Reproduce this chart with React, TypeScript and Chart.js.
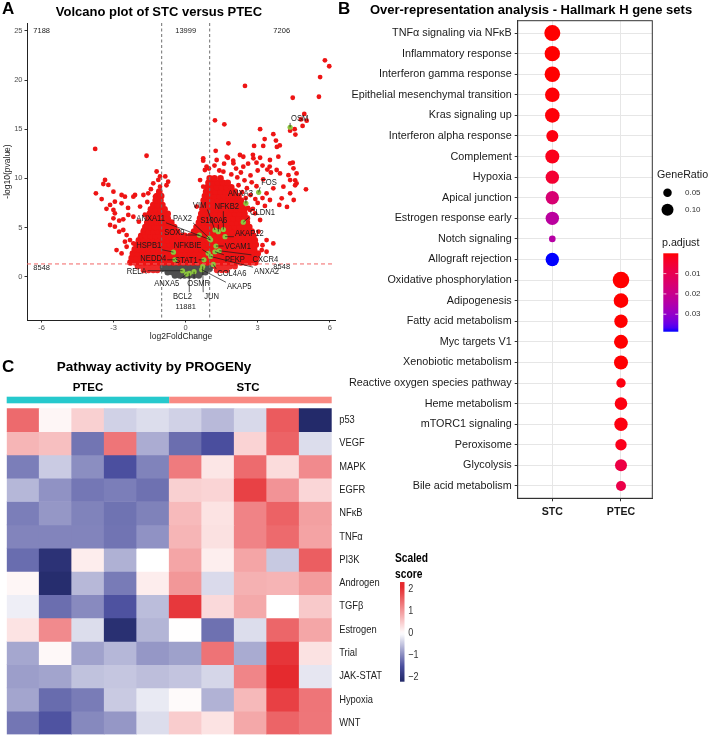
import React, { useEffect, useRef } from "react";
import { Chart, registerables } from "chart.js";

Chart.register(...registerables);

const SANS = "'Liberation Sans', Arial, Helvetica, sans-serif";
Chart.defaults.font.family = SANS;

type RGB = [number, number, number];

// ================= Panel A : volcano =================
const volcanoXTicks = [-6, -3, 0, 3, 6];
const volcanoYTicks = [0, 5, 10, 15, 20, 25];
const fcCutoffs = [-1, 1];
const pCutoff = 1.3;

// dense significant cloud: [ -log10(p), log2FC values ]
const denseSigRows: [number, number[]][] = [
  [1.45, [-2.3, -2.1, -1.9, -1.7, -1.5, -1.3, -1.1, -0.9, -0.7, -0.5, -0.3, -0.1, 0.1, 0.3, 0.5, 0.7, 0.9, 1.1, 1.3, 1.5, 1.7, 1.9, 2.1, 2.3, 2.5, 2.7, 2.9]],
  [1.9, [-2.25, -2.05, -1.85, -1.65, -1.45, -1.25, -1.05, -0.85, -0.65, -0.45, -0.25, -0.05, 0.15, 0.35, 0.55, 0.75, 0.95, 1.15, 1.35, 1.55, 1.75, 1.95, 2.15, 2.35, 2.55, 2.75, 2.95]],
  [2.35, [-2.2, -2.0, -1.8, -1.6, -1.4, -1.2, -1.0, -0.8, -0.6, -0.4, -0.2, 0.0, 0.2, 0.4, 0.6, 0.8, 1.0, 1.2, 1.4, 1.6, 1.8, 2.0, 2.2, 2.4, 2.6, 2.8, 3.0]],
  [2.8, [-2.12, -1.95, -1.75, -1.55, -1.35, -1.15, -0.95, -0.75, -0.55, -0.35, -0.15, 0.05, 0.25, 0.45, 0.65, 0.85, 1.05, 1.25, 1.45, 1.65, 1.85, 2.05, 2.25, 2.45, 2.65, 2.85]],
  [3.25, [-2.05, -1.85, -1.65, -1.45, -1.25, -1.05, -0.85, -0.65, -0.45, -0.25, -0.05, 0.15, 0.35, 0.55, 0.75, 0.95, 1.15, 1.35, 1.55, 1.75, 1.95, 2.15, 2.35, 2.55, 2.75, 2.92]],
  [3.7, [-1.95, -1.75, -1.55, -1.35, -1.15, -0.95, -0.75, -0.55, -0.35, -0.15, 0.1, 0.3, 0.5, 0.7, 0.9, 1.1, 1.3, 1.5, 1.7, 1.9, 2.1, 2.3, 2.5, 2.7, 2.88]],
  [4.15, [-1.85, -1.65, -1.45, -1.25, -1.05, -0.85, -0.65, -0.45, -0.25, -0.05, 0.2, 0.4, 0.6, 0.8, 1.0, 1.2, 1.4, 1.6, 1.8, 2.0, 2.2, 2.4, 2.6, 2.82]],
  [4.6, [-1.75, -1.55, -1.35, -1.15, -0.95, -0.75, -0.55, -0.35, 0.35, 0.55, 0.75, 0.95, 1.15, 1.35, 1.55, 1.75, 1.95, 2.15, 2.35, 2.55, 2.75]],
  [5.05, [-1.68, -1.48, -1.28, -1.08, -0.88, -0.68, -0.48, 0.45, 0.65, 0.85, 1.05, 1.25, 1.45, 1.65, 1.85, 2.05, 2.25, 2.45, 2.65]],
  [5.5, [-1.6, -1.4, -1.2, -1.0, -0.8, -0.6, 0.55, 0.75, 0.95, 1.15, 1.35, 1.55, 1.75, 1.95, 2.15, 2.35, 2.55]],
  [5.95, [-1.55, -1.35, -1.15, -0.95, -0.75, 0.6, 0.8, 1.0, 1.2, 1.4, 1.6, 1.8, 2.0, 2.2, 2.4, 2.55]],
  [6.4, [-1.5, -1.3, -1.1, -0.9, -0.75, 0.65, 0.85, 1.05, 1.25, 1.45, 1.65, 1.85, 2.05, 2.25, 2.45]],
  [6.85, [-1.45, -1.25, -1.05, -0.88, 0.7, 0.9, 1.1, 1.3, 1.5, 1.7, 1.9, 2.1, 2.3, 2.45]],
  [7.3, [-1.35, -1.15, -0.97, 0.75, 0.95, 1.15, 1.35, 1.55, 1.75, 1.95, 2.15, 2.35]],
  [7.75, [-1.25, -1.05, 0.75, 0.95, 1.15, 1.35, 1.55, 1.75, 1.95, 2.15, 2.3]],
  [8.2, [-1.2, -1.02, 0.8, 1.0, 1.2, 1.4, 1.6, 1.8, 2.0, 2.2]],
  [8.65, [-1.1, 0.85, 1.05, 1.25, 1.45, 1.65, 1.85, 2.05]],
  [9.1, [0.9, 1.1, 1.3, 1.5, 1.7, 1.9]],
  [9.55, [0.95, 1.15, 1.35, 1.55, 1.75]],
  [10.0, [1.0, 1.2, 1.45]],
];

// significant but below the p line (fringe)
const lowSigRows: [number, number[]][] = [
  [1.05, [-2.0, -1.8, -1.6, -1.4, -1.2, 1.25, 1.45, 1.65, 1.85, 2.05]],
  [0.65, [-1.75, -1.55, -1.35, -1.18, 1.3, 1.5, 1.7]],
];

// not significant
const nsRows: [number, number[]][] = [
  [1.15, [-1.02, -0.82, -0.62, -0.42, -0.22, -0.02, 0.18, 0.38, 0.58, 0.78, 0.98, 1.12]],
  [0.8, [-0.98, -0.8, -0.6, -0.4, -0.2, 0.0, 0.2, 0.4, 0.6, 0.8, 1.0]],
  [0.45, [-0.75, -0.55, -0.35, -0.15, 0.05, 0.25, 0.45, 0.65, 0.82]],
  [0.12, [-0.45, -0.25, -0.05, 0.15, 0.35, 0.55]],
];

// isolated significant genes [log2FC, -log10 p]
const scatterSig: [number, number][] = [
  [-3.77, 13.0], [-1.63, 12.3], [-3.74, 8.48], [-3.43, 9.43], [-3.36, 9.84], [-3.22, 9.33], [-3.01, 8.65],
  [-2.67, 8.31], [-2.53, 8.14], [-2.11, 8.31], [-2.18, 8.14], [-1.76, 8.31], [-1.56, 8.48], [-1.28, 8.14],
  [-2.95, 7.63], [-3.15, 7.3], [-2.67, 7.46], [-3.01, 6.79], [-2.95, 6.45], [-3.01, 5.94], [-2.77, 5.7],
  [-2.6, 5.84], [-2.39, 6.28], [-2.18, 6.1], [-1.9, 7.13], [-3.15, 5.26], [-2.95, 5.09], [-2.6, 4.75],
  [-2.77, 4.58], [-2.46, 4.24], [-2.32, 3.73], [-2.53, 3.56], [-2.18, 3.39], [-2.88, 2.71], [-2.67, 2.37],
  [-2.46, 3.05], [-1.9, 4.07], [-1.76, 4.75], [-1.63, 5.09], [-1.21, 10.7], [-1.07, 10.2], [-1.14, 9.84],
  [-1.35, 9.5], [-1.07, 9.16], [-0.73, 9.67], [-3.5, 7.9], [-3.3, 6.9], [-2.4, 7.0], [-1.95, 5.6],
  [-1.7, 6.3], [-1.6, 7.6], [-1.45, 8.9], [-0.85, 10.2], [-0.8, 9.3],
  [5.8, 22.0], [5.98, 21.4], [5.6, 20.3], [5.55, 18.3], [2.47, 19.4], [4.46, 18.2], [4.94, 16.55],
  [4.8, 16.0], [5.04, 15.87], [4.87, 15.33], [4.54, 15.0], [4.35, 14.85], [4.57, 14.45], [1.22, 15.9],
  [1.61, 15.5], [3.1, 15.0], [3.65, 14.5], [3.29, 14.0], [3.76, 13.84], [1.78, 13.57], [2.85, 13.3],
  [3.23, 13.3], [3.8, 13.2], [3.92, 13.35], [1.25, 12.8], [0.73, 12.04], [1.29, 11.87], [1.71, 12.21],
  [2.26, 12.38], [2.82, 12.04], [3.51, 11.87], [3.86, 12.21], [4.35, 11.53], [4.49, 11.02], [4.62, 10.5],
  [4.28, 10.33], [4.35, 9.83], [4.62, 9.5], [5.01, 8.89], [4.07, 9.16], [3.65, 8.99], [3.37, 8.48],
  [3.51, 7.8], [4.0, 7.97], [4.35, 8.48], [3.1, 5.77], [3.03, 4.58], [3.37, 3.73], [3.17, 2.71],
  [3.37, 2.54], [3.65, 3.39], [2.89, 6.45], [2.68, 6.79], [0.8, 10.85], [0.6, 9.83], [0.73, 9.16],
  [1.01, 8.48], [0.46, 7.13], [3.93, 10.5], [3.23, 9.9], [3.79, 10.85], [2.4, 11.19], [1.99, 11.53],
  [1.57, 10.68], [4.56, 9.8], [4.56, 9.3], [4.5, 7.8], [4.22, 7.1], [3.9, 7.3], [3.2, 3.2], [2.94, 2.2],
  [2.5, 8.0], [2.7, 8.3], [2.9, 7.9], [2.6, 7.0], [2.8, 6.9], [3.0, 7.5], [2.35, 8.6], [2.55, 9.0],
  [2.2, 9.3], [2.75, 9.6], [3.2, 8.0], [3.3, 7.2], [2.95, 9.2], [2.45, 9.8], [2.15, 10.1], [1.9, 10.4],
  [2.3, 10.6], [2.7, 10.3], [3.0, 10.8], [1.4, 10.8], [1.2, 11.3], [1.6, 11.5], [2.1, 11.0], [2.6, 11.5],
  [3.2, 11.3], [3.1, 12.1], [2.95, 11.6], [0.73, 11.8], [0.87, 11.2], [0.97, 11.0], [1.76, 12.1],
  [1.98, 11.8], [2.4, 12.2], [2.8, 12.4], [3.5, 11.2], [3.4, 10.9], [3.55, 10.6], [4.46, 11.6],
];

const geneNames = ["OSM", "FOS", "ANXA3", "CLDN1", "NFKB2", "VIM", "S100A6", "AKAP12", "PAX2", "ANXA11", "SOX9", "VCAM1", "NFKBIE", "HSPB1", "NEDD4", "STAT1", "PFKP", "CXCR4", "ANXA2", "COL4A6", "RELA", "ANXA5", "OSMR", "BCL2", "JUN", "AKAP5"];
const geneLog2FC = [4.35, 3.04, 2.51, 2.4, 1.57, 1.22, 1.36, 1.64, 0.98, 1.04, 0.57, 1.26, 0.94, -0.51, -0.45, 0.76, 1.22, 1.4, 1.04, 1.15, -0.13, 0.04, 0.35, 0.15, 0.71, 0.67];
const geneLogP = [15.2, 8.58, 7.46, 5.55, 4.8, 4.75, 4.58, 4.07, 3.92, 3.75, 4.24, 3.12, 2.38, 2.5, 1.72, 1.72, 2.54, 2.64, 2.06, 1.25, 0.61, 0.27, 0.51, 0.35, 1.05, 0.72];
const labelLog2FC = [4.75, 3.47, 2.28, 3.2, 1.71, 0.58, 1.17, 2.65, -0.13, -1.46, -0.47, 2.17, 0.08, -1.54, -1.35, 0.03, 2.05, 3.32, 3.37, 1.92, -2.04, -0.79, 0.54, -0.13, 1.08, 2.23];
const labelLogP = [16.1, 9.56, 8.48, 6.5, 7.12, 7.3, 5.77, 4.41, 5.94, 5.94, 4.55, 3.12, 3.22, 3.2, 1.87, 1.63, 1.77, 1.77, 0.51, 0.34, 0.51, -0.68, -0.68, -2.03, -2.03, -1.02];

const regionCounts = ["7188", "13999", "7206", "8548", "8548", "11881"];
const countX = [-6, 0, 4, -6, 4, 0];
const countY = [25, 25, 25, 0.85, 1.0, -3.05];

// ================= Panel B : ORA dot plot =================
const pathways = [
  "TNFα signaling via NFκB", "Inflammatory response", "Interferon gamma response",
  "Epithelial mesenchymal transition", "Kras signaling up", "Interferon alpha response",
  "Complement", "Hypoxia", "Apical junction", "Estrogen response early", "Notch signaling",
  "Allograft rejection", "Oxidative phosphorylation", "Adipogenesis", "Fatty acid metabolism",
  "Myc targets V1", "Xenobiotic metabolism", "Reactive oxygen species pathway", "Heme metabolism",
  "mTORC1 signaling", "Peroxisome", "Glycolysis", "Bile acid metabolism",
];
const cellGroups = ["STC", "PTEC"];
const enrichGroup = ["STC", "STC", "STC", "STC", "STC", "STC", "STC", "STC", "STC", "STC", "STC", "STC",
  "PTEC", "PTEC", "PTEC", "PTEC", "PTEC", "PTEC", "PTEC", "PTEC", "PTEC", "PTEC", "PTEC"];
const geneRatio = [0.177, 0.164, 0.164, 0.148, 0.148, 0.1, 0.136, 0.124, 0.124, 0.124, 0.03, 0.124,
  0.19, 0.148, 0.124, 0.136, 0.136, 0.061, 0.11, 0.124, 0.09, 0.1, 0.069];
const pAdjust = [0.0000001, 0.000001, 0.00001, 0.0003, 0.0005, 0.001, 0.002, 0.005, 0.0155, 0.023, 0.024, 0.0386,
  0.0000001, 0.000001, 0.00001, 0.00001, 0.0001, 0.001, 0.001, 0.001, 0.002, 0.0077, 0.0085];
const sizeBreaks = [0.05, 0.1];
const pBreaks = [0.01, 0.02, 0.03];
const P_MAX = 0.0386;

// ================= Panel C : PROGENy heatmap =================
const progenyPathways = ["p53", "VEGF", "MAPK", "EGFR", "NFκB", "TNFα", "PI3K", "Androgen", "TGFβ", "Estrogen", "Trial", "JAK-STAT", "Hypoxia", "WNT"];
const sampleIds = ["PTEC_1", "PTEC_2", "PTEC_3", "PTEC_4", "PTEC_5", "STC_1", "STC_2", "STC_3", "STC_4", "STC_5"];
const sampleGroup = ["PTEC", "PTEC", "PTEC", "PTEC", "PTEC", "STC", "STC", "STC", "STC", "STC"];
const scoreP53 = [1.47, 0.09, 0.46, -0.39, -0.29, -0.39, -0.59, -0.32, 1.62, -2.15];
const scoreVEGF = [0.73, 0.63, -1.17, 1.36, -0.7, -1.23, -1.5, 0.43, 1.54, -0.29];
const scoreMAPK = [-1.09, -0.44, -0.96, -1.49, -1.05, 1.3, 0.25, 1.46, 0.35, 1.15];
const scoreEGFR = [-0.61, -0.92, -1.15, -1.09, -1.2, 0.46, 0.42, 1.87, 1.06, 0.4];
const scoreNFkB = [-1.09, -0.88, -1.05, -1.19, -1.06, 0.68, 0.28, 1.22, 1.55, 0.94];
const scoreTNFa = [-1.04, -1.04, -1.04, -1.18, -0.92, 0.73, 0.3, 1.22, 1.47, 0.91];
const scorePI3K = [-1.24, -2.0, 0.18, -0.66, 0.0, 0.89, 0.17, 0.89, -0.46, 1.59];
const scoreAndrogen = [0.09, -2.1, -0.6, -1.12, 0.18, 1.03, -0.31, 0.77, 0.74, 0.98];
const scoreTGFb = [-0.14, -1.23, -0.99, -1.47, -0.56, 1.96, 0.37, 0.85, 0.0, 0.53];
const scoreEstrogen = [0.28, 1.15, -0.29, -2.05, -0.63, 0.01, -1.2, -0.29, 1.51, 0.88];
const scoreTrial = [-0.75, 0.07, -0.79, -0.61, -0.88, -0.8, 1.38, -0.71, 1.99, 0.29];
const scoreJAKSTAT = [-0.82, -0.77, -0.52, -0.48, -0.55, -0.5, -0.35, 1.2, 2.1, -0.21];
const scoreHypoxia = [-0.76, -1.25, -1.11, -0.45, -0.18, 0.05, -0.65, 0.69, 1.88, 1.36];
const scoreWNT = [-1.16, -1.46, -1.0, -0.88, -0.29, 0.5, 0.28, 0.86, 1.53, 1.35];
const scoreRows = [scoreP53, scoreVEGF, scoreMAPK, scoreEGFR, scoreNFkB, scoreTNFa, scorePI3K, scoreAndrogen, scoreTGFb, scoreEstrogen, scoreTrial, scoreJAKSTAT, scoreHypoxia, scoreWNT];
const scoreLegendTicks = [2, 1, 0, -1, -2];
const SCORE_MIN = -2.2;
const SCORE_MAX = 2.33;

// ================= colour helpers =================
const rgbStr = (c: RGB) => `rgb(${Math.round(c[0])},${Math.round(c[1])},${Math.round(c[2])})`;
const mix = (a: RGB, b: RGB, t: number): RGB => [a[0] + (b[0] - a[0]) * t, a[1] + (b[1] - a[1]) * t, a[2] + (b[2] - a[2]) * t];

const WHITE: RGB = [255, 255, 255];
const HEAT_HIGH: RGB = [229, 42, 46];
const HEAT_MID_LOW: RGB = [74, 78, 158];
const HEAT_LOW: RGB = [35, 42, 106];
function heatColor(v: number): string {
  if (v >= 0) return rgbStr(mix(WHITE, HEAT_HIGH, Math.min(v / 2.1, 1)));
  if (v >= -1.5) return rgbStr(mix(WHITE, HEAT_MID_LOW, -v / 1.5));
  return rgbStr(mix(HEAT_MID_LOW, HEAT_LOW, Math.min((-v - 1.5) / 0.65, 1)));
}

function toLin(c: number) { c /= 255; return c <= 0.04045 ? c / 12.92 : Math.pow((c + 0.055) / 1.055, 2.4); }
function fromLin(c: number) { const v = c <= 0.0031308 ? 12.92 * c : 1.055 * Math.pow(c, 1 / 2.4) - 0.055; return Math.max(0, Math.min(1, v)) * 255; }
function rgbToLab(c: RGB): RGB {
  const R = toLin(c[0]), G = toLin(c[1]), B = toLin(c[2]);
  const X = (0.4124 * R + 0.3576 * G + 0.1805 * B) / 0.95047;
  const Y = 0.2126 * R + 0.7152 * G + 0.0722 * B;
  const Z = (0.0193 * R + 0.1192 * G + 0.9505 * B) / 1.08883;
  const f = (t: number) => (t > 0.008856 ? Math.cbrt(t) : 7.787 * t + 16 / 116);
  const fx = f(X), fy = f(Y), fz = f(Z);
  return [116 * fy - 16, 500 * (fx - fy), 200 * (fy - fz)];
}
function labToRgb(l: RGB): RGB {
  const fy = (l[0] + 16) / 116, fx = fy + l[1] / 500, fz = fy - l[2] / 200;
  const inv = (t: number) => (t * t * t > 0.008856 ? t * t * t : (t - 16 / 116) / 7.787);
  const X = inv(fx) * 0.95047, Y = inv(fy), Z = inv(fz) * 1.08883;
  const R = 3.2406 * X - 1.5372 * Y - 0.4986 * Z;
  const G = -0.9689 * X + 1.8758 * Y + 0.0415 * Z;
  const B = 0.0557 * X - 0.204 * Y + 1.057 * Z;
  return [fromLin(R), fromLin(G), fromLin(B)];
}
const LAB_RED = rgbToLab([255, 0, 0]);
const LAB_BLUE = rgbToLab([0, 0, 255]);
function pColor(p: number): string {
  const t = Math.max(0, Math.min(1, p / P_MAX));
  return rgbStr(labToRgb(mix(LAB_RED, LAB_BLUE, t)));
}

const rowsToPoints = (rows: [number, number[]][]) => rows.flatMap(([y, xs]) => xs.map((x) => ({ x, y })));

// draw horizontally condensed text (narrow face look-alike)
function narrowText(ctx: CanvasRenderingContext2D, text: string, x: number, y: number, sx: number) {
  ctx.save();
  ctx.translate(x, y);
  ctx.scale(sx, 1);
  ctx.fillText(text, 0, 0);
  ctx.restore();
}

// ================= Panel A chart =================
const volcanoDecor = {
  id: "volcanoDecor",
  afterDatasetsDraw(chart: any) {
    const { ctx, chartArea: a, scales } = chart;
    const x = scales.x, y = scales.y;
    ctx.save();
    ctx.lineWidth = 1;
    ctx.setLineDash([3, 2.5]);
    ctx.strokeStyle = "#707070";
    fcCutoffs.forEach((v) => {
      const px = x.getPixelForValue(v);
      ctx.beginPath(); ctx.moveTo(px, a.top); ctx.lineTo(px, a.bottom); ctx.stroke();
    });
    ctx.setLineDash([4, 3]);
    ctx.strokeStyle = "#F26464";
    const py = y.getPixelForValue(pCutoff);
    ctx.beginPath(); ctx.moveTo(a.left, py); ctx.lineTo(a.right, py); ctx.stroke();
    ctx.setLineDash([]);

    const SX = 0.82;
    ctx.font = `9.3px ${SANS}`;
    ctx.textAlign = "center";
    ctx.textBaseline = "middle";
    geneNames.forEach((g, i) => {
      const gx = x.getPixelForValue(geneLog2FC[i]);
      const gy = y.getPixelForValue(geneLogP[i]);
      const lx = x.getPixelForValue(labelLog2FC[i]);
      const ly = y.getPixelForValue(labelLogP[i]);
      const hw = (ctx.measureText(g).width * SX) / 2 + 1;
      const hh = 4.5;
      const qx = Math.max(lx - hw, Math.min(gx, lx + hw));
      const qy = Math.max(ly - hh, Math.min(gy, ly + hh));
      if (Math.hypot(qx - gx, qy - gy) > 2) {
        ctx.strokeStyle = "#1a1a1a";
        ctx.lineWidth = 0.7;
        ctx.beginPath(); ctx.moveTo(gx, gy); ctx.lineTo(qx, qy); ctx.stroke();
      }
      ctx.fillStyle = "#1a1a1a";
      narrowText(ctx, g, lx, ly, SX);
    });

    ctx.font = `7.5px ${SANS}`;
    ctx.fillStyle = "#222";
    regionCounts.forEach((t, i) => {
      ctx.fillText(t, x.getPixelForValue(countX[i]), y.getPixelForValue(countY[i]));
    });
    ctx.restore();
  },
  afterDraw(chart: any) {
    const { ctx } = chart;
    ctx.save();
    ctx.fillStyle = "#000";
    ctx.textBaseline = "middle";
    ctx.textAlign = "left";
    ctx.font = `bold 17px ${SANS}`;
    ctx.fillText("A", 2, 9);
    ctx.textAlign = "center";
    ctx.font = `bold 13px ${SANS}`;
    ctx.fillText("Volcano plot of STC versus PTEC", 159, 12);
    ctx.restore();
  },
};

function makeVolcano(canvas: HTMLCanvasElement) {
  const genePts = geneNames.map((_, i) => ({ x: geneLog2FC[i], y: geneLogP[i] }));
  return new Chart(canvas, {
    type: "scatter",
    data: {
      datasets: [
        { label: "genes", data: genePts, backgroundColor: "#8CC63E", borderWidth: 0, pointRadius: 2.6, order: 0 },
        { label: "sig", data: scatterSig.map(([x, y]) => ({ x, y })), backgroundColor: "#EE1414", borderWidth: 0, pointRadius: 2.4, order: 1 },
        { label: "sigDense", data: rowsToPoints(denseSigRows), backgroundColor: "#EE1414", borderWidth: 0, pointRadius: 3.3, order: 2 },
        { label: "sigLow", data: rowsToPoints(lowSigRows), backgroundColor: "#EE2A2A", borderWidth: 0, pointRadius: 3.0, order: 3 },
        { label: "ns", data: rowsToPoints(nsRows), backgroundColor: "#4F4F4F", borderWidth: 0, pointRadius: 3.2, order: 4 },
      ],
    },
    options: {
      responsive: false,
      animation: false,
      events: [],
      layout: { padding: { top: 23, right: 10, left: 0, bottom: 0 } },
      plugins: { legend: { display: false }, tooltip: { enabled: false } },
      scales: {
        x: {
          type: "linear", min: -6.61, max: 6.22,
          afterBuildTicks: (s: any) => { s.ticks = volcanoXTicks.map((v) => ({ value: v })); },
          afterFit: (s: any) => { s.height = 30; },
          grid: { display: true, drawOnChartArea: false, drawTicks: true, tickLength: 2.5, color: "#333", tickColor: "#333" },
          border: { display: true, color: "#222", width: 1 },
          ticks: { font: { size: 7.5, family: SANS }, color: "#4D4D4D", padding: 1, maxRotation: 0, autoSkip: false },
          title: { display: true, text: "log2FoldChange", font: { size: 8.5, family: SANS }, color: "#1a1a1a", padding: { top: 0, bottom: 8.5 } },
        },
        y: {
          type: "linear", min: -4.4, max: 25.8,
          afterBuildTicks: (s: any) => { s.ticks = volcanoYTicks.map((v) => ({ value: v })); },
          afterFit: (s: any) => { s.width = 27; },
          grid: { display: true, drawOnChartArea: false, drawTicks: true, tickLength: 2.5, color: "#333", tickColor: "#333" },
          border: { display: true, color: "#222", width: 1 },
          ticks: { font: { size: 7.5, family: SANS }, color: "#4D4D4D", padding: 2, autoSkip: false },
          title: { display: true, text: "-log10(pvalue)", font: { size: 8.5, family: SANS }, color: "#1a1a1a", padding: { top: 2.5, bottom: 0 } },
        },
      },
    },
    plugins: [volcanoDecor],
  } as any);
}

// ================= Panel B chart =================
const dotDecor = {
  id: "dotDecor",
  afterDraw(chart: any) {
    const { ctx, chartArea: a } = chart;
    ctx.save();
    ctx.strokeStyle = "#333";
    ctx.lineWidth = 1;
    ctx.strokeRect(a.left, a.top, a.right - a.left, a.bottom - a.top);

    ctx.fillStyle = "#000";
    ctx.textBaseline = "middle";
    ctx.textAlign = "left";
    ctx.font = `bold 17px ${SANS}`;
    ctx.fillText("B", 8, 9);
    ctx.textAlign = "center";
    ctx.font = `bold 13px ${SANS}`;
    ctx.fillText("Over-representation analysis - Hallmark H gene sets", 201, 10);

    // size legend
    ctx.textAlign = "left";
    ctx.fillStyle = "#1a1a1a";
    ctx.font = `10.7px ${SANS}`;
    ctx.fillText("GeneRatio", 327, 175);
    sizeBreaks.forEach((v, i) => {
      const cy = 192.7 + i * 17;
      ctx.fillStyle = "#000";
      ctx.beginPath(); ctx.arc(337.5, cy, 19 * Math.sqrt(v), 0, Math.PI * 2); ctx.fill();
      ctx.fillStyle = "#333";
      ctx.font = `8px ${SANS}`;
      ctx.fillText(v.toFixed(2), 355, cy);
    });

    // colour bar legend
    ctx.fillStyle = "#1a1a1a";
    ctx.font = `10.7px ${SANS}`;
    ctx.fillText("p.adjust", 332, 243.3);
    const top = 253.3, bottom = 331.7, left = 333.3, right = 348.3;
    const grad = ctx.createLinearGradient(0, top, 0, bottom);
    for (let k = 0; k <= 20; k++) grad.addColorStop(k / 20, pColor((k / 20) * P_MAX));
    ctx.fillStyle = grad;
    ctx.fillRect(left, top, right - left, bottom - top);
    ctx.font = `8px ${SANS}`;
    pBreaks.forEach((p) => {
      const yy = top + (p / P_MAX) * (bottom - top);
      ctx.strokeStyle = "rgba(255,255,255,0.9)";
      ctx.lineWidth = 0.8;
      ctx.beginPath(); ctx.moveTo(left, yy); ctx.lineTo(left + 3, yy); ctx.moveTo(right - 3, yy); ctx.lineTo(right, yy); ctx.stroke();
      ctx.fillStyle = "#333";
      ctx.fillText(p.toFixed(2), 355, yy);
    });
    ctx.restore();
  },
};

function makeDot(canvas: HTMLCanvasElement) {
  const pts = pathways.map((_, i) => ({ x: cellGroups.indexOf(enrichGroup[i]) + 1, y: i, r: 19 * Math.sqrt(geneRatio[i]) }));
  return new Chart(canvas, {
    type: "bubble",
    data: {
      datasets: [{ data: pts, backgroundColor: pAdjust.map(pColor), borderWidth: 0, hoverBorderWidth: 0 }],
    },
    options: {
      responsive: false,
      animation: false,
      events: [],
      layout: { padding: { top: 20.7, right: 56.7, left: 0, bottom: 0 } },
      plugins: { legend: { display: false }, tooltip: { enabled: false } },
      scales: {
        x: {
          type: "linear", min: 0.496, max: 2.456,
          afterBuildTicks: (s: any) => { s.ticks = cellGroups.map((_, i) => ({ value: i + 1 })); },
          afterFit: (s: any) => { s.height = 21.7; },
          grid: { color: "#E6E6E6", lineWidth: 1, tickLength: 3, tickColor: "#333" },
          border: { display: true, color: "#333" },
          ticks: { callback: (v: any) => cellGroups[Math.round(v) - 1], font: { size: 10.6, weight: "bold", family: SANS }, color: "#1a1a1a", padding: 4, autoSkip: false, maxRotation: 0 },
        },
        y: {
          type: "linear", reverse: true, min: -0.6, max: pathways.length - 0.4,
          afterBuildTicks: (s: any) => { s.ticks = pathways.map((_, i) => ({ value: i })); },
          afterFit: (s: any) => { s.width = 187.7; },
          grid: { color: "#E6E6E6", lineWidth: 1, tickLength: 3, tickColor: "#333" },
          border: { display: true, color: "#333" },
          ticks: { callback: (v: any) => pathways[Math.round(v)], font: { size: 10.8, family: SANS }, color: "#1a1a1a", padding: 3, autoSkip: false },
        },
      },
    },
    plugins: [dotDecor],
  } as any);
}

// ================= Panel C chart =================
const heatDecor = {
  id: "heatDecor",
  afterDraw(chart: any) {
    const { ctx, chartArea: a, scales } = chart;
    const x = scales.x, y = scales.y;
    ctx.save();
    ctx.fillStyle = "#000";
    ctx.textBaseline = "middle";
    ctx.textAlign = "left";
    ctx.font = `bold 17px ${SANS}`;
    ctx.fillText("C", 2, 12);
    ctx.textAlign = "center";
    ctx.font = `bold 13.5px ${SANS}`;
    ctx.fillText("Pathway activity by PROGENy", 154, 12);

    // group annotation bar + labels
    const groupsSeen = Array.from(new Set(sampleGroup));
    groupsSeen.forEach((g) => {
      const first = sampleGroup.indexOf(g);
      const last = sampleGroup.lastIndexOf(g);
      const x0 = x.getPixelForValue(first - 0.5);
      const x1 = x.getPixelForValue(last + 0.5);
      ctx.fillStyle = g === "PTEC" ? "#00BFC4" : "#F8766D";
      ctx.globalAlpha = 0.85;
      ctx.fillRect(x0, 41.7, x1 - x0, 6.6);
      ctx.globalAlpha = 1;
      ctx.fillStyle = "#000";
      ctx.font = `bold 11.5px ${SANS}`;
      ctx.fillText(g, g === "PTEC" ? 88 : 248, 33);
    });

    // row labels
    ctx.textAlign = "left";
    ctx.fillStyle = "#222";
    ctx.font = `11.4px ${SANS}`;
    progenyPathways.forEach((p, r) => {
      narrowText(ctx, p, a.right + 7.5, y.getPixelForValue(r + 0.5), 0.82);
    });

    // legend
    ctx.fillStyle = "#000";
    ctx.font = `bold 12.5px ${SANS}`;
    narrowText(ctx, "Scaled", 395, 204, 0.82);
    narrowText(ctx, "score", 395, 220, 0.82);
    const valToY = (v: number) => 278.3 - 22 * v;
    const top = valToY(SCORE_MAX), bottom = valToY(SCORE_MIN);
    const grad = ctx.createLinearGradient(0, top, 0, bottom);
    for (let k = 0; k <= 40; k++) grad.addColorStop(k / 40, heatColor(SCORE_MAX - (k / 40) * (SCORE_MAX - SCORE_MIN)));
    ctx.fillStyle = grad;
    ctx.fillRect(400, top, 4.5, bottom - top);
    ctx.fillStyle = "#333";
    ctx.font = `11px ${SANS}`;
    scoreLegendTicks.forEach((v) => {
      narrowText(ctx, v < 0 ? `\u2212${Math.abs(v)}` : `${v}`, 408.3, valToY(v), 0.82);
    });
    ctx.restore();
  },
};

function makeHeat(canvas: HTMLCanvasElement) {
  return new Chart(canvas, {
    type: "bar",
    data: {
      labels: sampleIds,
      datasets: progenyPathways.map((name, r) => ({
        label: name,
        data: sampleIds.map(() => 1),
        backgroundColor: scoreRows[r].map(heatColor),
        borderWidth: 0,
        barPercentage: 1,
        categoryPercentage: 1,
      })),
    },
    options: {
      responsive: false,
      animation: false,
      events: [],
      layout: { padding: { left: 6.7, top: 53.3, right: 148.3, bottom: 0.5 } },
      plugins: { legend: { display: false }, tooltip: { enabled: false } },
      scales: {
        x: { display: false, stacked: true },
        y: { display: false, stacked: true, reverse: true, min: 0, max: progenyPathways.length },
      },
    },
    plugins: [heatDecor],
  } as any);
}

export default function App() {
  const aRef = useRef<HTMLCanvasElement>(null);
  const bRef = useRef<HTMLCanvasElement>(null);
  const cRef = useRef<HTMLCanvasElement>(null);
  useEffect(() => {
    const charts = [makeVolcano(aRef.current!), makeHeat(cRef.current!), makeDot(bRef.current!)];
    return () => charts.forEach((c) => c.destroy());
  }, []);
  return (
    <div style={{ position: "absolute", left: 0, top: 0, width: 709, height: 735, background: "#fff", overflow: "hidden" }}>
      <canvas ref={aRef} width={345} height={350} style={{ position: "absolute", left: 0, top: 0, width: 345, height: 350 }} />
      <canvas ref={cRef} width={480} height={380} style={{ position: "absolute", left: 0, top: 355, width: 480, height: 380 }} />
      <canvas ref={bRef} width={379} height={520} style={{ position: "absolute", left: 330, top: 0, width: 379, height: 520 }} />
    </div>
  );
}
